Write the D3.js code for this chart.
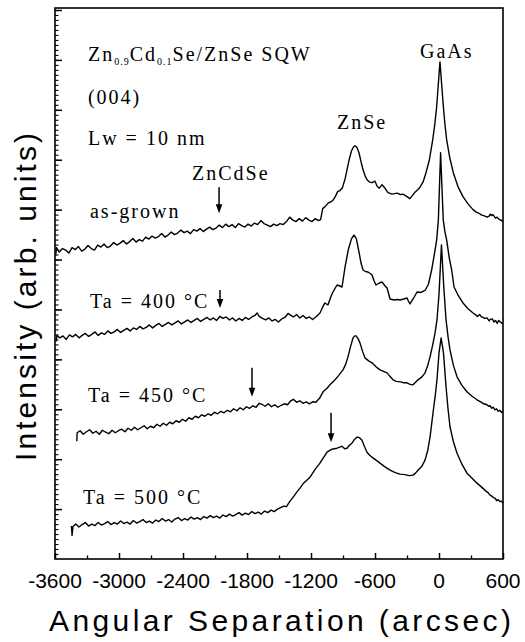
<!DOCTYPE html>
<html><head><meta charset="utf-8">
<script src="https://cdn.jsdelivr.net/npm/d3@7"></script>
<style>body{margin:0;background:#fff}svg{display:block}</style>
</head><body><svg id="c" width="525" height="642"></svg>
<script>
// ---------- data ----------
const xTickValues = [-3600,-3000,-2400,-1800,-1200,-600,0,600];
const xTickLabels = ["-3600","-3000","-2400","-1800","-1200","-600","0","600"];
const xMinorValues = [-3300,-2700,-2100,-1500,-900,-300,300];
const yMajorValues = [1,2,3,4,5,6,7,8,9,10,11];
const xTitle = "Angular Separation (arcsec)";
const yTitle = "Intensity (arb. units)";

const asGrown = [[-3592,6.10],[-3586,6.24],[-3560,6.15],[-3530,6.22],[-3500,6.19],[-3470,6.13],[-3440,6.24],[-3410,6.20],[-3380,6.26],[-3350,6.17],[-3320,6.21],[-3290,6.28],[-3260,6.22],[-3230,6.19],[-3200,6.29],[-3170,6.25],[-3140,6.31],[-3110,6.24],[-3080,6.27],[-3050,6.34],[-3020,6.29],[-2990,6.33],[-2960,6.38],[-2930,6.31],[-2900,6.36],[-2870,6.42],[-2840,6.35],[-2810,6.40],[-2780,6.37],[-2750,6.45],[-2720,6.41],[-2690,6.47],[-2660,6.43],[-2630,6.46],[-2600,6.52],[-2570,6.45],[-2540,6.49],[-2510,6.55],[-2480,6.50],[-2450,6.53],[-2420,6.59],[-2390,6.54],[-2360,6.57],[-2330,6.52],[-2300,6.60],[-2270,6.57],[-2240,6.62],[-2210,6.56],[-2180,6.61],[-2150,6.65],[-2120,6.60],[-2090,6.63],[-2060,6.69],[-2030,6.64],[-2000,6.71],[-1970,6.66],[-1940,6.70],[-1910,6.64],[-1880,6.72],[-1850,6.68],[-1820,6.65],[-1790,6.71],[-1760,6.67],[-1730,6.73],[-1700,6.70],[-1670,6.78],[-1640,6.72],[-1610,6.69],[-1580,6.66],[-1550,6.71],[-1520,6.68],[-1490,6.72],[-1460,6.70],[-1430,6.76],[-1400,6.85],[-1370,6.79],[-1340,6.76],[-1310,6.82],[-1280,6.77],[-1250,6.84],[-1220,6.79],[-1190,6.76],[-1160,6.82],[-1130,6.78],[-1110,6.80],[-1090,7.02],[-1060,7.08],[-1040,7.13],[-1010,7.16],[-990,7.20],[-970,7.27],[-950,7.36],[-930,7.38],[-905,7.44],[-880,7.62],[-860,7.82],[-840,8.02],[-820,8.18],[-800,8.26],[-787,8.28],[-770,8.25],[-750,8.14],[-730,7.95],[-712,7.80],[-690,7.66],[-675,7.60],[-650,7.55],[-628,7.54],[-600,7.57],[-580,7.47],[-560,7.43],[-534,7.50],[-510,7.44],[-478,7.34],[-440,7.31],[-394,7.33],[-360,7.30],[-337,7.31],[-300,7.26],[-272,7.22],[-250,7.28],[-225,7.35],[-200,7.40],[-178,7.45],[-150,7.55],[-122,7.74],[-90,8.00],[-59,8.40],[-40,8.70],[-22,9.06],[9,9.96],[41,9.06],[56,8.70],[72,8.40],[100,8.05],[134,7.74],[180,7.45],[225,7.26],[270,7.12],[319,7.00],[350,6.95],[380,6.92],[400,6.89],[420,6.88],[450,6.85],[470,6.87],[480,6.91],[495,6.88],[506,6.90],[530,6.83],[545,6.85],[560,6.81],[580,6.79],[600,6.76]];

const ta400 = [[-3588,4.36],[-3582,4.48],[-3555,4.43],[-3525,4.47],[-3495,4.40],[-3465,4.49],[-3435,4.45],[-3405,4.50],[-3375,4.43],[-3345,4.48],[-3315,4.52],[-3285,4.46],[-3255,4.50],[-3225,4.55],[-3195,4.48],[-3165,4.53],[-3135,4.50],[-3105,4.57],[-3075,4.52],[-3045,4.55],[-3015,4.60],[-2985,4.54],[-2955,4.58],[-2925,4.62],[-2895,4.57],[-2865,4.63],[-2835,4.60],[-2805,4.66],[-2775,4.61],[-2745,4.64],[-2715,4.69],[-2685,4.63],[-2655,4.68],[-2625,4.72],[-2595,4.66],[-2565,4.70],[-2535,4.74],[-2505,4.69],[-2475,4.73],[-2445,4.77],[-2415,4.71],[-2385,4.75],[-2355,4.79],[-2325,4.74],[-2295,4.78],[-2265,4.82],[-2235,4.76],[-2205,4.80],[-2175,4.84],[-2145,4.79],[-2115,4.83],[-2085,4.78],[-2055,4.86],[-2025,4.82],[-1995,4.85],[-1965,4.79],[-1935,4.83],[-1905,4.77],[-1875,4.82],[-1845,4.78],[-1815,4.84],[-1785,4.80],[-1755,4.85],[-1725,4.88],[-1706,4.93],[-1685,4.86],[-1655,4.82],[-1625,4.79],[-1595,4.83],[-1565,4.77],[-1535,4.80],[-1505,4.75],[-1475,4.81],[-1445,4.84],[-1415,4.92],[-1395,4.89],[-1365,4.85],[-1335,4.90],[-1305,4.83],[-1275,4.88],[-1245,4.82],[-1215,4.85],[-1185,4.80],[-1150,4.86],[-1116,4.93],[-1090,5.05],[-1069,5.13],[-1041,5.09],[-1015,5.25],[-994,5.35],[-956,5.49],[-930,5.47],[-909,5.45],[-881,5.85],[-850,6.20],[-820,6.42],[-797,6.49],[-775,6.42],[-750,6.15],[-730,5.92],[-712,5.79],[-690,5.76],[-666,5.75],[-645,5.72],[-628,5.69],[-610,5.58],[-591,5.49],[-560,5.53],[-534,5.55],[-505,5.47],[-487,5.43],[-470,5.30],[-459,5.21],[-420,5.19],[-390,5.20],[-366,5.19],[-330,5.21],[-300,5.23],[-285,5.16],[-272,5.11],[-240,5.22],[-206,5.35],[-170,5.34],[-131,5.38],[-100,5.50],[-69,5.79],[-40,6.15],[-22,6.39],[-6,6.79],[15,8.14],[40,6.79],[56,6.55],[72,6.39],[95,6.05],[119,5.79],[141,5.45],[180,5.28],[225,5.13],[270,5.02],[319,4.93],[345,4.89],[360,4.86],[380,4.90],[400,4.85],[430,4.82],[450,4.83],[470,4.77],[480,4.80],[500,4.81],[515,4.75],[530,4.78],[545,4.72],[560,4.78],[580,4.74],[600,4.71]];

const ta450 = [[-3396,2.36],[-3392,2.53],[-3365,2.57],[-3335,2.50],[-3305,2.55],[-3275,2.59],[-3245,2.52],[-3215,2.56],[-3185,2.50],[-3155,2.58],[-3125,2.54],[-3095,2.51],[-3065,2.58],[-3035,2.53],[-3005,2.57],[-2975,2.60],[-2945,2.55],[-2915,2.62],[-2885,2.58],[-2855,2.64],[-2825,2.59],[-2795,2.63],[-2765,2.67],[-2735,2.61],[-2705,2.66],[-2675,2.63],[-2645,2.70],[-2615,2.66],[-2585,2.72],[-2555,2.68],[-2525,2.74],[-2495,2.71],[-2465,2.77],[-2435,2.74],[-2405,2.80],[-2375,2.76],[-2345,2.83],[-2315,2.80],[-2285,2.86],[-2255,2.83],[-2225,2.89],[-2195,2.86],[-2165,2.91],[-2135,2.88],[-2105,2.94],[-2075,2.91],[-2045,2.96],[-2015,2.93],[-1985,2.98],[-1955,2.95],[-1925,3.01],[-1895,2.97],[-1865,3.03],[-1835,2.99],[-1805,3.05],[-1775,3.02],[-1745,3.07],[-1715,3.04],[-1685,3.12],[-1660,3.10],[-1630,3.06],[-1600,3.11],[-1570,3.05],[-1540,3.09],[-1510,3.04],[-1480,3.08],[-1450,3.11],[-1420,3.09],[-1390,3.17],[-1365,3.20],[-1335,3.14],[-1305,3.17],[-1275,3.12],[-1245,3.15],[-1215,3.11],[-1185,3.15],[-1155,3.14],[-1120,3.22],[-1087,3.35],[-1050,3.42],[-1022,3.49],[-975,3.59],[-940,3.68],[-900,3.79],[-875,3.90],[-853,4.05],[-830,4.25],[-806,4.43],[-790,4.47],[-778,4.47],[-760,4.42],[-741,4.33],[-715,4.15],[-694,4.03],[-660,3.97],[-628,3.93],[-590,3.85],[-553,3.79],[-520,3.76],[-487,3.73],[-460,3.66],[-431,3.59],[-400,3.56],[-360,3.55],[-330,3.53],[-300,3.53],[-270,3.50],[-244,3.49],[-220,3.54],[-197,3.59],[-160,3.65],[-131,3.73],[-105,3.88],[-84,4.05],[-60,4.28],[-37,4.53],[-19,4.79],[0,5.30],[23,6.29],[45,5.45],[66,4.79],[85,4.45],[103,4.19],[135,3.88],[169,3.65],[215,3.48],[262,3.35],[310,3.26],[356,3.19],[390,3.15],[420,3.11],[450,3.09],[465,3.06],[478,3.07],[495,3.02],[510,3.04],[525,2.99],[540,3.01],[555,2.96],[570,2.98],[585,2.94],[600,2.95]];

const ta500 = [[-3446,0.66],[-3440,0.47],[-3432,0.65],[-3405,0.70],[-3375,0.64],[-3345,0.69],[-3315,0.73],[-3285,0.66],[-3255,0.70],[-3225,0.67],[-3195,0.73],[-3165,0.68],[-3135,0.71],[-3105,0.75],[-3075,0.69],[-3045,0.73],[-3015,0.70],[-2985,0.76],[-2955,0.71],[-2925,0.74],[-2895,0.70],[-2865,0.77],[-2835,0.72],[-2805,0.75],[-2775,0.79],[-2745,0.73],[-2715,0.76],[-2685,0.72],[-2655,0.78],[-2625,0.75],[-2595,0.81],[-2565,0.76],[-2535,0.79],[-2505,0.74],[-2475,0.80],[-2445,0.83],[-2415,0.77],[-2385,0.81],[-2355,0.78],[-2325,0.84],[-2295,0.80],[-2265,0.83],[-2235,0.79],[-2205,0.85],[-2175,0.82],[-2145,0.87],[-2115,0.83],[-2085,0.86],[-2055,0.82],[-2025,0.88],[-1995,0.85],[-1965,0.90],[-1935,0.86],[-1905,0.89],[-1875,0.93],[-1845,0.88],[-1815,0.92],[-1785,0.89],[-1755,0.95],[-1725,0.91],[-1695,0.94],[-1665,0.90],[-1635,0.96],[-1605,0.93],[-1575,0.98],[-1545,0.95],[-1515,1.00],[-1485,1.03],[-1455,1.06],[-1430,1.05],[-1400,1.15],[-1360,1.26],[-1330,1.35],[-1303,1.42],[-1270,1.52],[-1240,1.58],[-1209,1.64],[-1160,1.80],[-1116,1.92],[-1080,2.04],[-1050,2.14],[-1003,2.20],[-956,2.22],[-930,2.24],[-909,2.26],[-885,2.21],[-862,2.22],[-840,2.28],[-816,2.32],[-790,2.40],[-770,2.44],[-759,2.44],[-740,2.42],[-722,2.38],[-700,2.26],[-675,2.14],[-650,2.08],[-628,2.04],[-590,1.98],[-553,1.92],[-510,1.85],[-459,1.78],[-410,1.73],[-366,1.70],[-320,1.69],[-280,1.67],[-244,1.68],[-220,1.72],[-197,1.78],[-160,1.86],[-131,1.98],[-105,2.18],[-84,2.44],[-56,2.93],[-35,3.28],[-19,3.59],[0,4.13],[20,4.43],[42,4.13],[66,3.45],[85,3.00],[103,2.65],[135,2.35],[169,2.12],[215,1.90],[262,1.72],[310,1.62],[356,1.52],[400,1.44],[440,1.36],[460,1.33],[478,1.28],[495,1.26],[510,1.23],[525,1.22],[540,1.17],[555,1.19],[570,1.15],[585,1.16],[600,1.12]];

const seriesList = [asGrown, ta400, ta450, ta500];

// arrows: x position, top and tip values
const arrowX   = [-2062, -2053, -1753, -1012];
const arrowTop = [7.45, 5.39, 3.83, 2.93];
const arrowTip = [6.93, 5.03, 3.25, 2.34];

// sample labels
const sampleLabels = ["as-grown", "Ta = 400 °C", "Ta = 450 °C", "Ta = 500 °C"];

// ---------- layout ----------
const svg = d3.select("#c");
const L = 55, R = 503, T = 8, B = 559;
const x = d3.scaleLinear().domain([-3600, 600]).range([L, R]);
const y = d3.scaleLinear().domain([0, 11.04]).range([B, T]);

const serif = "'Liberation Serif','Times New Roman',serif";
const sans = "'Liberation Sans',Arial,sans-serif";

// frame
svg.append("rect").attr("x", L).attr("y", T).attr("width", R - L).attr("height", B - T)
  .attr("fill", "none").attr("stroke", "#000").attr("stroke-width", 1.6);

// y ticks (inward)
const yMinor = d3.range(1, 111).map(d => d / 10).filter(d => d <= 11.04);
svg.append("g").attr("transform", `translate(${L},0)`)
  .call(d3.axisLeft(y).tickValues(yMinor).tickSize(-3.5).tickFormat(""))
  .call(g => g.select(".domain").remove())
  .selectAll("line").attr("stroke-width", 1.1);
svg.append("g").attr("transform", `translate(${L},0)`)
  .call(d3.axisLeft(y).tickValues(yMajorValues).tickSize(-7).tickFormat(""))
  .call(g => g.select(".domain").remove())
  .selectAll("line").attr("stroke-width", 1.5);

// x ticks (inward)
svg.append("g").attr("transform", `translate(0,${B})`)
  .call(d3.axisBottom(x).tickValues(xMinorValues).tickSize(-3.5).tickFormat(""))
  .call(g => g.select(".domain").remove())
  .selectAll("line").attr("stroke-width", 1.3);
svg.append("g").attr("transform", `translate(0,${B})`)
  .call(d3.axisBottom(x).tickValues(xTickValues).tickSize(-6).tickFormat(""))
  .call(g => g.select(".domain").remove())
  .selectAll("line").attr("stroke-width", 1.5);

// x tick labels
svg.append("g").selectAll("text").data(xTickValues).join("text")
  .attr("x", d => x(d)).attr("y", 588)
  .attr("text-anchor", "middle")
  .attr("font-family", sans).attr("font-size", 21)
  .text((d, i) => xTickLabels[i]);

// axis titles
svg.append("text").attr("x", 280).attr("y", 631).attr("text-anchor", "middle")
  .attr("font-family", sans).attr("font-size", 30)
  .attr("textLength", 462).attr("lengthAdjust", "spacing")
  .text(xTitle);
svg.append("text").attr("transform", "translate(36,297) rotate(-90)")
  .attr("text-anchor", "middle")
  .attr("font-family", sans).attr("font-size", 30)
  .attr("textLength", 328).attr("lengthAdjust", "spacing")
  .text(yTitle);

// curves
const line = d3.line().x(d => x(d[0])).y(d => y(d[1]));
svg.append("g").selectAll("path").data(seriesList).join("path")
  .attr("d", line).attr("fill", "none").attr("stroke", "#000")
  .attr("stroke-width", 1.4).attr("stroke-linejoin", "round");

// arrows
arrowX.forEach((ax, i) => {
  const px = x(ax), y0 = y(arrowTop[i]), y1 = y(arrowTip[i]);
  svg.append("line").attr("x1", px).attr("x2", px).attr("y1", y0).attr("y2", y1 - 6)
    .attr("stroke", "#000").attr("stroke-width", 1.5);
  svg.append("path").attr("d", `M${px - 3.3},${y1 - 9}L${px + 3.3},${y1 - 9}L${px},${y1}Z`)
    .attr("fill", "#000");
});

// annotation text helper
function label(xv, yv, txt, anchor) {
  return svg.append("text").attr("x", x(xv)).attr("y", y(yv))
    .attr("font-family", serif).attr("font-size", 20)
    .attr("letter-spacing", "2px")
    .attr("text-anchor", anchor || "start").text(txt);
}

// title block
const t1 = svg.append("text").attr("x", x(-3291)).attr("y", y(9.98))
  .attr("font-family", serif).attr("font-size", 20).attr("letter-spacing", "2px");
t1.append("tspan").text("Zn");
t1.append("tspan").attr("font-size", 10).attr("dy", 4).attr("letter-spacing", "1px").text("0.9");
t1.append("tspan").attr("dy", -4).text("Cd");
t1.append("tspan").attr("font-size", 10).attr("dy", 4).attr("letter-spacing", "1px").text("0.1");
t1.append("tspan").attr("dy", -4).text("Se/ZnSe SQW");
label(-3291, 9.12, "(004)");
label(-3291, 8.30, "Lw = 10 nm");
label(-2316, 7.60, "ZnCdSe");
label(-956, 8.62, "ZnSe");
label(-178, 10.04, "GaAs");

// sample labels
const sampleLabelX = [-3272, -3272, -3291, -3337];
const sampleLabelY = [6.83, 5.03, 3.15, 1.10];
sampleLabels.forEach((s, i) => label(sampleLabelX[i], sampleLabelY[i], s));
</script>
</body></html>
